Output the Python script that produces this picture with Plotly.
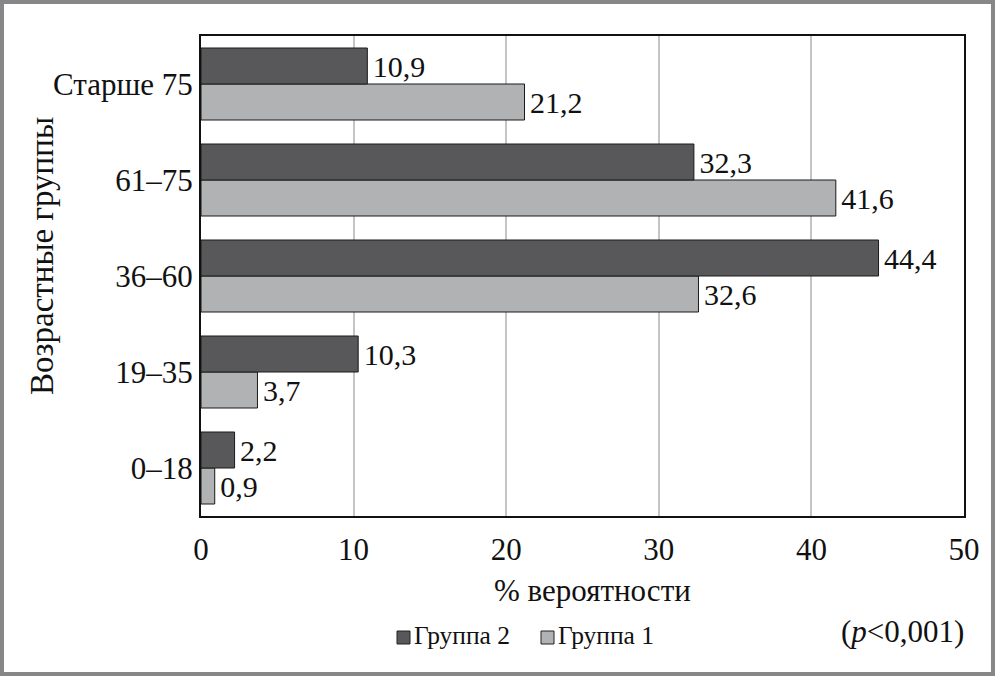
import plotly.graph_objects as go

categories = ["0–18", "19–35", "36–60", "61–75", "Старше 75"]
group1 = [0.9, 3.7, 32.6, 41.6, 21.2]
group2 = [2.2, 10.3, 44.4, 32.3, 10.9]
x_ticks = [0, 10, 20, 30, 40, 50]
series_names = ["Группа 2", "Группа 1"]

COLOR_G1 = "#b1b2b4"
COLOR_G2 = "#58585a"

def fmt(v):
    return "\u200a" + f"{v:.1f}".replace(".", ",")

FONT = "Liberation Serif"
FS = 31

fig = go.Figure()
fig.add_trace(go.Bar(
    y=categories, x=group1, orientation="h", name=series_names[1],
    marker=dict(color=COLOR_G1, line=dict(color="#1a1a1a", width=1)),
    text=[fmt(v) for v in group1], textposition="outside",
    textfont=dict(family=FONT, size=30, color="#111"), cliponaxis=False,
))
fig.add_trace(go.Bar(
    y=categories, x=group2, orientation="h", name=series_names[0],
    marker=dict(color=COLOR_G2, line=dict(color="#1a1a1a", width=1)),
    text=[fmt(v) for v in group2], textposition="outside",
    textfont=dict(family=FONT, size=30, color="#111"), cliponaxis=False,
))

L, R, T, B = 201, 31, 36, 160
W, H = 995, 676
pw, ph = W - L - R, H - T - B

def px_x(p):
    return (p - L) / pw

def px_y(p):
    return (H - B - p) / ph

annotations = [
    dict(text="% вероятности", xref="paper", yref="paper",
         x=px_x(592), y=px_y(590), xanchor="center", yanchor="middle",
         showarrow=False, font=dict(family=FONT, size=FS, color="#111")),
    dict(text="Возрастные группы", xref="paper", yref="paper",
         x=px_x(42), y=px_y(256), xanchor="center", yanchor="middle",
         showarrow=False, textangle=-90,
         font=dict(family=FONT, size=33, color="#111")),
    dict(text="(<i>p</i><0,001)", xref="paper", yref="paper",
         x=px_x(966), xanchor="right", y=px_y(631), yanchor="middle",
         showarrow=False, font=dict(family=FONT, size=FS, color="#111")),
]
shapes = [
    dict(type="rect", xref="paper", yref="paper",
         x0=px_x(2), x1=px_x(993), y0=px_y(674), y1=px_y(2),
         line=dict(color="#87878a", width=4), fillcolor="rgba(0,0,0,0)",
         layer="below"),
]
# manual legend (Группа 2, Группа 1)
leg_sq_x = [397, 541]
leg_colors = [COLOR_G2, COLOR_G1]
for name, sx, col in zip(series_names, leg_sq_x, leg_colors):
    shapes.append(dict(type="rect", xref="paper", yref="paper",
                       x0=px_x(sx), x1=px_x(sx + 13), y0=px_y(644), y1=px_y(631),
                       line=dict(color="#222", width=1), fillcolor=col))
    annotations.append(dict(text=name, xref="paper", yref="paper",
                            x=px_x(sx + 15), xanchor="left", y=px_y(635), yanchor="middle",
                            showarrow=False, font=dict(family=FONT, size=25.5, color="#111")))

fig.update_layout(
    width=W, height=H,
    margin=dict(l=L, r=R, t=T, b=B),
    paper_bgcolor="white", plot_bgcolor="white",
    barmode="group", bargap=0.25, bargroupgap=0,
    font=dict(family=FONT, size=FS, color="#111"),
    showlegend=False,
    xaxis=dict(
        range=[0, 50], tickvals=x_ticks, ticktext=[str(t) for t in x_ticks],
        showgrid=True, gridcolor="#c4c4c4", gridwidth=1.5,
        showline=True, linecolor="#111", linewidth=2, mirror=True,
        ticks="", ticklabelstandoff=5, zeroline=False,
        tickfont=dict(family=FONT, size=FS, color="#111"),
    ),
    yaxis=dict(
        categoryorder="array", categoryarray=categories,
        showgrid=False, showline=True, linecolor="#111", linewidth=2, mirror=True,
        ticks="", ticklabelstandoff=0,
        tickfont=dict(family=FONT, size=FS, color="#111"),
    ),
    annotations=annotations,
    shapes=shapes,
)

fig.write_html("out.html", config={"displayModeBar": False},
               post_script="document.body.style.margin='0';document.body.style.padding='0';")
